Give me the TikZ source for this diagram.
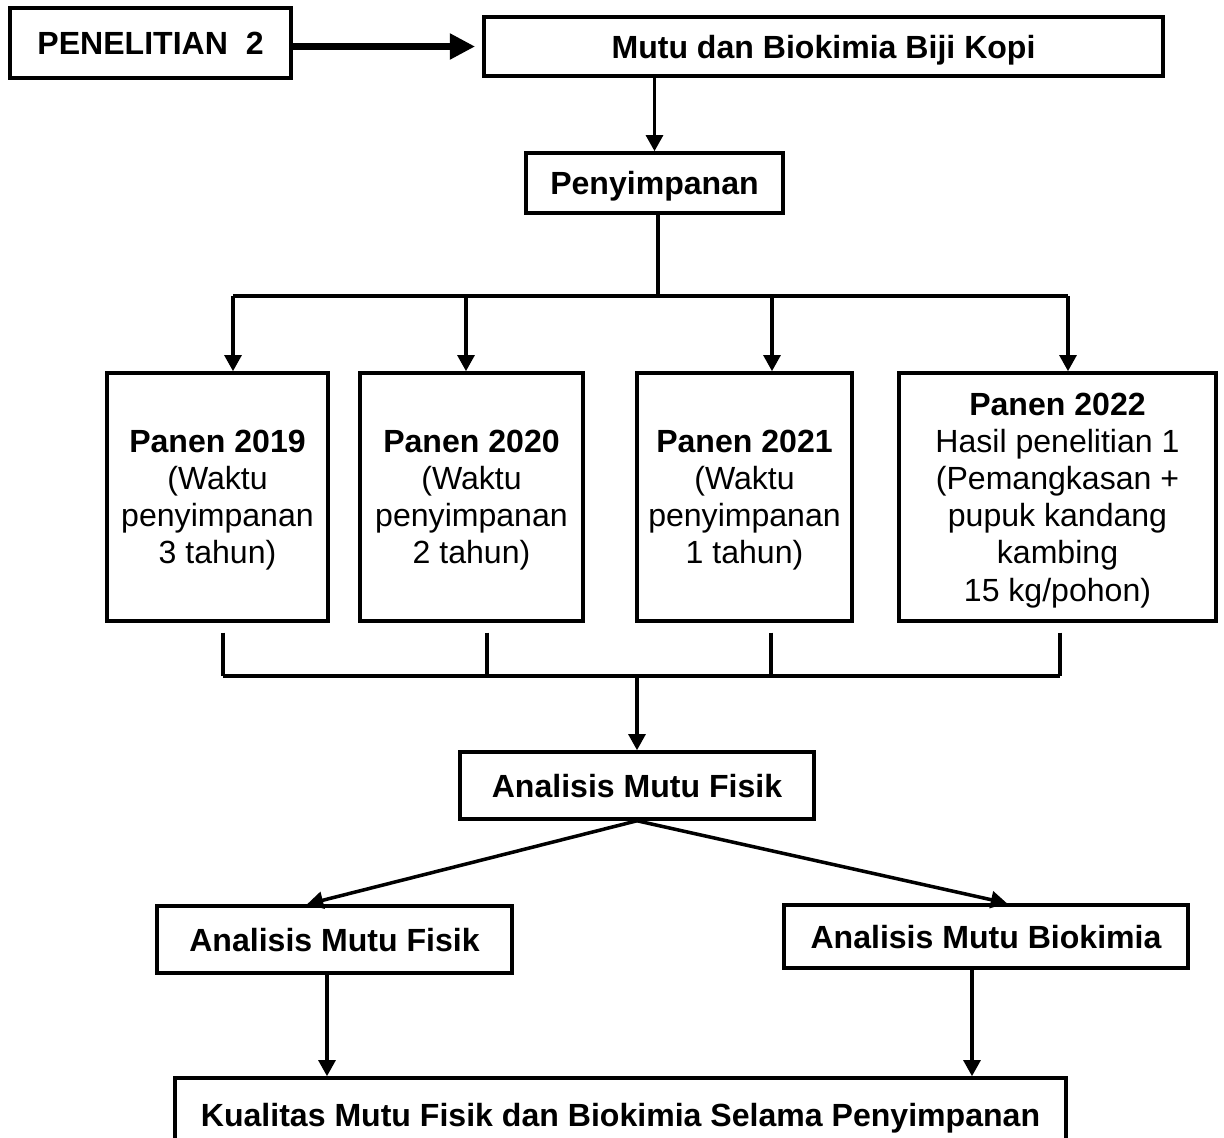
\documentclass[tikz,border=0pt]{standalone}
\usepackage{fontspec}
\setmainfont{Liberation Sans}
\usetikzlibrary{arrows.meta}

\begin{document}
\begin{tikzpicture}[x=0.025cm, y=-0.025cm, line width=2.5pt,
                    box/.style={draw,rectangle,inner sep=0pt,align=center,text depth=0pt,
                                font=\fontsize{22.8}{26.4}\selectfont\bfseries},
                    panen/.style={box,font=\fontsize{22.8}{26.4}\selectfont,minimum height=6.2cm},
                    arr/.style={-{Triangle[length=11.5pt,width=12pt]}},
                    big arr/.style={line width=4.8pt,-{Triangle[length=18pt,width=17.5pt]}}]

  \clip (0,0) rectangle (1224,1138);

  \node[box,minimum width=7.025cm,minimum height=1.75cm] (pen) at (150.5,43) {PENELITIAN\ \ 2};
  \node[box,minimum width=16.975cm,minimum height=1.475cm] (mutu) at (823.5,46.5) {Mutu dan Biokimia Biji Kopi};
  \node[box,minimum width=6.425cm,minimum height=1.5cm] (simpan) at (654.5,183) {Penyimpanan};

  \node[panen,minimum width=5.525cm] (p19) at (217.5,497)
       {\textbf{Panen 2019}\\(Waktu\\penyimpanan\\3 tahun)};
  \node[panen,minimum width=5.575cm] (p20) at (471.5,497)
       {\textbf{Panen 2020}\\(Waktu\\penyimpanan\\2 tahun)};
  \node[panen,minimum width=5.375cm] (p21) at (744.5,497)
       {\textbf{Panen 2021}\\(Waktu\\penyimpanan\\1 tahun)};
  \node[panen,minimum width=7.925cm] (p22) at (1057.5,497)
       {\textbf{Panen 2022}\\Hasil penelitian 1\\(Pemangkasan +\\pupuk kandang\\kambing\\15 kg/pohon)};

  \node[box,minimum width=8.85cm,minimum height=1.675cm] (fisik) at (637,785.5) {Analisis Mutu Fisik};
  \node[box,minimum width=8.875cm,minimum height=1.675cm] (fisik2) at (334.5,939.5) {Analisis Mutu Fisik};
  \node[box,minimum width=10.1cm,minimum height=1.575cm] (bio) at (986,936.5) {Analisis Mutu Biokimia};
  \node[box,minimum width=22.275cm,minimum height=1.85cm] (hasil) at (620.5,1115)
       {Kualitas Mutu Fisik dan Biokimia Selama Penyimpanan};

  % split above the harvests
  \coordinate (split) at (658,296);
  \coordinate (t19) at (233,296);
  \coordinate (t20) at (466,296);
  \coordinate (t21) at (772,296);
  \coordinate (t22) at (1068,296);

  % join below the harvests
  \coordinate (join) at (637,676);
  \coordinate (b19) at (223,676);
  \coordinate (b20) at (487,676);
  \coordinate (b21) at (771,676);
  \coordinate (b22) at (1060,676);

  % columns of the lower arrows
  \coordinate (cf) at (307,0);
  \coordinate (cb) at (1007,0);
  \coordinate (df) at (327,0);
  \coordinate (db) at (972,0);

  \draw[big arr,shorten >=5pt] (pen.east |- mutu.west) -- (mutu.west);
  \draw[arr] (simpan.north |- mutu.south) -- (simpan.north);
  \draw (split |- simpan.south) -- (split);
  \draw (t19) -- (t22);
  \draw[arr] (t19) -- (t19 |- p19.north);
  \draw[arr] (t20) -- (t20 |- p20.north);
  \draw[arr] (t21) -- (t21 |- p21.north);
  \draw[arr] (t22) -- (t22 |- p22.north);

  \draw ([yshift=-7]b19 |- p19.south) -- (b19);
  \draw ([yshift=-7]b20 |- p20.south) -- (b20);
  \draw ([yshift=-7]b21 |- p21.south) -- (b21);
  \draw ([yshift=-7]b22 |- p22.south) -- (b22);
  \draw (b19) -- (b22);
  \draw[arr] (join) -- (fisik.north);

  \draw[arr] (fisik.south) -- (cf |- fisik2.north);
  \draw[arr] (fisik.south) -- (cb |- bio.north);
  \draw[arr] (df |- fisik2.south) -- (df |- hasil.north);
  \draw[arr] (db |- bio.south) -- (db |- hasil.north);

\end{tikzpicture}
\end{document}
